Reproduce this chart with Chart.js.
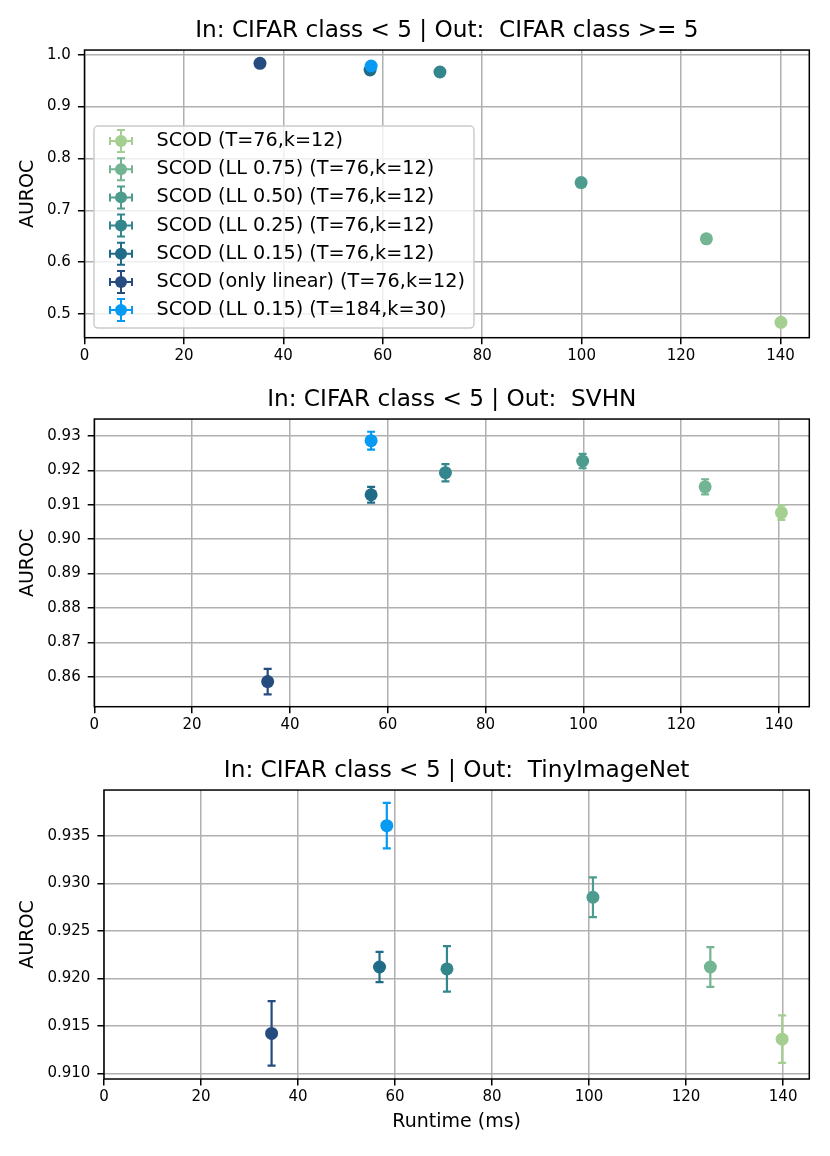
<!DOCTYPE html>
<html lang="en">
<head>
<meta charset="UTF-8">
<title>SCOD runtime vs AUROC</title>
<script src="https://cdn.jsdelivr.net/npm/chart.js"></script>
<style>
    body { margin: 0; background: #fff; }
    canvas { position: absolute; left: 0; }
</style>
</head>
<body>
<canvas id="cifar" width="830" height="369" style="top:0"></canvas>
<canvas id="svhn" width="830" height="371" style="top:369px"></canvas>
<canvas id="tiny" width="830" height="416" style="top:740px"></canvas>

<script>
// series (same order in all three panels)
const seriesLabels = [
    'SCOD (T=76,k=12)',
    'SCOD (LL 0.75) (T=76,k=12)',
    'SCOD (LL 0.50) (T=76,k=12)',
    'SCOD (LL 0.25) (T=76,k=12)',
    'SCOD (LL 0.15) (T=76,k=12)',
    'SCOD (only linear) (T=76,k=12)',
    'SCOD (LL 0.15) (T=184,k=30)'
];
const seriesColors = ['#a5cf90', '#73b592', '#4e9c8d', '#33868c', '#206b87', '#264c7f', '#069af3'];

const xTickLabels = ['0', '20', '40', '60', '80', '100', '120', '140'];

// Out: CIFAR class >= 5
const runtimeCifar = [140.1, 125.1, 99.9, 71.5, 57.45, 35.3, 57.66];
const aurocCifar   = [0.484, 0.6449, 0.7534, 0.9667, 0.9705, 0.9834, 0.9782];
const errCifar     = [0.002, 0.002, 0.002, 0.002, 0.001, 0.001, 0.001];
const yTicksCifar  = ['0.5', '0.6', '0.7', '0.8', '0.9', '1.0'];

// Out: SVHN
const runtimeSvhn = [140.5, 124.9, 99.85, 71.8, 56.6, 35.45, 56.6];
const aurocSvhn   = [0.9077, 0.9152, 0.9227, 0.9193, 0.9129, 0.8586, 0.9286];
const errSvhn     = [0.0021, 0.0022, 0.0021, 0.0025, 0.0023, 0.0037, 0.0026];
const yTicksSvhn  = ['0.86', '0.87', '0.88', '0.89', '0.90', '0.91', '0.92', '0.93'];

// Out: TinyImageNet
const runtimeTiny = [139.8, 125.0, 100.8, 70.7, 56.8, 34.55, 58.3];
const aurocTiny   = [0.9136, 0.9212, 0.92855, 0.9210, 0.9212, 0.9142, 0.9361];
const errTiny     = [0.0025, 0.0021, 0.0021, 0.0024, 0.0016, 0.0034, 0.0024];
const yTicksTiny  = ['0.910', '0.915', '0.920', '0.925', '0.930', '0.935'];

Chart.defaults.font.family = '"DejaVu Sans"';
Chart.defaults.color = '#000';

// vertical error bars, drawn just before each dataset's marker
const errorBars = {
    id: 'errorBars',
    beforeDatasetDraw(chart, args) {
        const ds = chart.data.datasets[args.index];
        if (!ds.yErr) return;
        const ctx = chart.ctx, xs = chart.scales.x, ys = chart.scales.y;
        ctx.save();
        ctx.strokeStyle = ds.backgroundColor;
        ctx.lineWidth = 2.2;
        ds.data.forEach((p, j) => {
            const e = ds.yErr[j];
            const px = xs.getPixelForValue(p.x);
            const top = ys.getPixelForValue(p.y + e);
            const bot = ys.getPixelForValue(p.y - e);
            ctx.beginPath();
            ctx.moveTo(px, top); ctx.lineTo(px, bot);
            ctx.moveTo(px - 4, top); ctx.lineTo(px + 4, top);
            ctx.moveTo(px - 4, bot); ctx.lineTo(px + 4, bot);
            ctx.stroke();
        });
        ctx.restore();
    }
};

// black box round the plot area
const axesFrame = {
    id: 'axesFrame',
    afterDatasetsDraw(chart) {
        const { ctx, chartArea: a } = chart;
        ctx.save();
        ctx.strokeStyle = '#000';
        ctx.lineWidth = 1.5;
        ctx.strokeRect(a.left, a.top, a.right - a.left, a.bottom - a.top);
        ctx.restore();
    }
};

function drawErrIcon(ctx, x, y, color) {
    ctx.strokeStyle = color;
    ctx.fillStyle = color;
    ctx.lineWidth = 2;
    ctx.beginPath();
    ctx.moveTo(x - 11, y); ctx.lineTo(x + 11, y);
    ctx.moveTo(x, y - 11); ctx.lineTo(x, y + 11);
    ctx.moveTo(x - 11, y - 4); ctx.lineTo(x - 11, y + 4);
    ctx.moveTo(x + 11, y - 4); ctx.lineTo(x + 11, y + 4);
    ctx.moveTo(x - 4, y - 11); ctx.lineTo(x + 4, y - 11);
    ctx.moveTo(x - 4, y + 11); ctx.lineTo(x + 4, y + 11);
    ctx.stroke();
    ctx.beginPath();
    ctx.arc(x, y, 6, 0, Math.PI * 2);
    ctx.fill();
}

// legend inside the axes, matplotlib style
const boxLegend = {
    id: 'boxLegend',
    afterDraw(chart, args, opts) {
        if (!opts.display) return;
        const { ctx, chartArea: a } = chart;
        const dsets = chart.data.datasets;
        ctx.save();
        ctx.font = opts.fontSize + 'px "DejaVu Sans"';
        const maxW = Math.max(...dsets.map(d => ctx.measureText(d.label).width));
        const x0 = a.left + opts.offsetX, y0 = a.top + opts.offsetY;
        const w = opts.textX + maxW + opts.padRight;
        const h = opts.padTop + (dsets.length - 1) * opts.rowHeight + opts.padBottom;
        const r = 4;
        ctx.beginPath();
        ctx.moveTo(x0 + r, y0);
        ctx.arcTo(x0 + w, y0, x0 + w, y0 + h, r);
        ctx.arcTo(x0 + w, y0 + h, x0, y0 + h, r);
        ctx.arcTo(x0, y0 + h, x0, y0, r);
        ctx.arcTo(x0, y0, x0 + w, y0, r);
        ctx.closePath();
        ctx.fillStyle = 'rgba(255,255,255,0.8)';
        ctx.fill();
        ctx.strokeStyle = '#cccccc';
        ctx.lineWidth = 1.5;
        ctx.stroke();
        dsets.forEach((d, k) => {
            const ry = y0 + opts.padTop + k * opts.rowHeight;
            drawErrIcon(ctx, x0 + opts.iconX, ry, d.backgroundColor);
            ctx.fillStyle = '#000';
            ctx.textBaseline = 'middle';
            ctx.textAlign = 'left';
            ctx.fillText(d.label, x0 + opts.textX, ry);
        });
        ctx.restore();
    }
};

function makeDatasets(runtime, auroc, err) {
    return seriesLabels.map((label, i) => ({
        label: label,
        data: [{ x: runtime[i], y: auroc[i] }],
        yErr: [err[i]],
        backgroundColor: seriesColors[i],
        borderWidth: 0,
        pointRadius: 6.5,
        pointStyle: 'circle',
        order: seriesLabels.length - i
    }));
}

function gridStyle() {
    return { color: '#b0b0b0', lineWidth: 1.5, tickColor: '#000', tickLength: 6.6, tickWidth: 1.5 };
}

function makePanel(id, p) {
    new Chart(document.getElementById(id), {
        type: 'scatter',
        data: { datasets: makeDatasets(p.runtime, p.auroc, p.err) },
        plugins: [errorBars, axesFrame, boxLegend],
        options: {
            responsive: false,
            animation: false,
            events: [],
            layout: { padding: { left: 0, right: 20.7, top: 0, bottom: 0 } },
            plugins: {
                legend: { display: false },
                tooltip: { enabled: false },
                title: {
                    display: true, text: p.title, fullSize: false, color: '#000',
                    font: { size: 23.2, weight: 'normal' },
                    padding: { top: 17.1, bottom: 5.1 }
                },
                boxLegend: {
                    display: !!p.legend, fontSize: 19.2, offsetX: 9.5, offsetY: 76,
                    padTop: 15, padBottom: 18, rowHeight: 28.17,
                    iconX: 27, textX: 62.5, padRight: 9
                }
            },
            scales: {
                x: {
                    type: 'linear', min: 0, max: p.xMax,
                    afterFit: s => { s.height = p.xAxisHeight; },
                    afterBuildTicks: s => { s.ticks = xTickLabels.map(t => ({ value: Number(t) })); },
                    ticks: { callback: (v, i) => xTickLabels[i], font: { size: 15 }, padding: 3, maxRotation: 0, autoSkip: false },
                    grid: gridStyle(),
                    border: { display: false },
                    title: {
                        display: !!p.xTitle, text: p.xTitle || '',
                        font: { size: 19 }, padding: { top: 4, bottom: 22.6 }
                    }
                },
                y: {
                    type: 'linear', min: p.yMin, max: p.yMax,
                    afterFit: s => { s.width = p.yAxisWidth; },
                    afterBuildTicks: s => { s.ticks = p.yTicks.map(t => ({ value: Number(t) })); },
                    ticks: { callback: (v, i) => p.yTicks[i], font: { size: 15 }, padding: 7, autoSkip: false },
                    grid: gridStyle(),
                    border: { display: false },
                    title: {
                        display: true, text: 'AUROC',
                        font: { size: 19 }, padding: { top: 16.9, bottom: 4 }
                    }
                }
            }
        }
    });
}

makePanel('cifar', {
    title: 'In: CIFAR class < 5 | Out:  CIFAR class >= 5',
    runtime: runtimeCifar, auroc: aurocCifar, err: errCifar, yTicks: yTicksCifar,
    xMax: 145.8, yMin: 0.4543, yMax: 1.009,
    yAxisWidth: 84.5, xAxisHeight: 31.3, legend: true
});

makePanel('svhn', {
    title: 'In: CIFAR class < 5 | Out:  SVHN',
    runtime: runtimeSvhn, auroc: aurocSvhn, err: errSvhn, yTicks: yTicksSvhn,
    xMax: 146.2, yMin: 0.8513, yMax: 0.9349,
    yAxisWidth: 94.3, xAxisHeight: 33.3
});

makePanel('tiny', {
    title: 'In: CIFAR class < 5 | Out:  TinyImageNet',
    runtime: runtimeTiny, auroc: aurocTiny, err: errTiny, yTicks: yTicksTiny,
    xMax: 145.4, yMin: 0.9094, yMax: 0.93985,
    yAxisWidth: 104, xAxisHeight: 77, xTitle: 'Runtime (ms)'
});
</script>
</body>
</html>
